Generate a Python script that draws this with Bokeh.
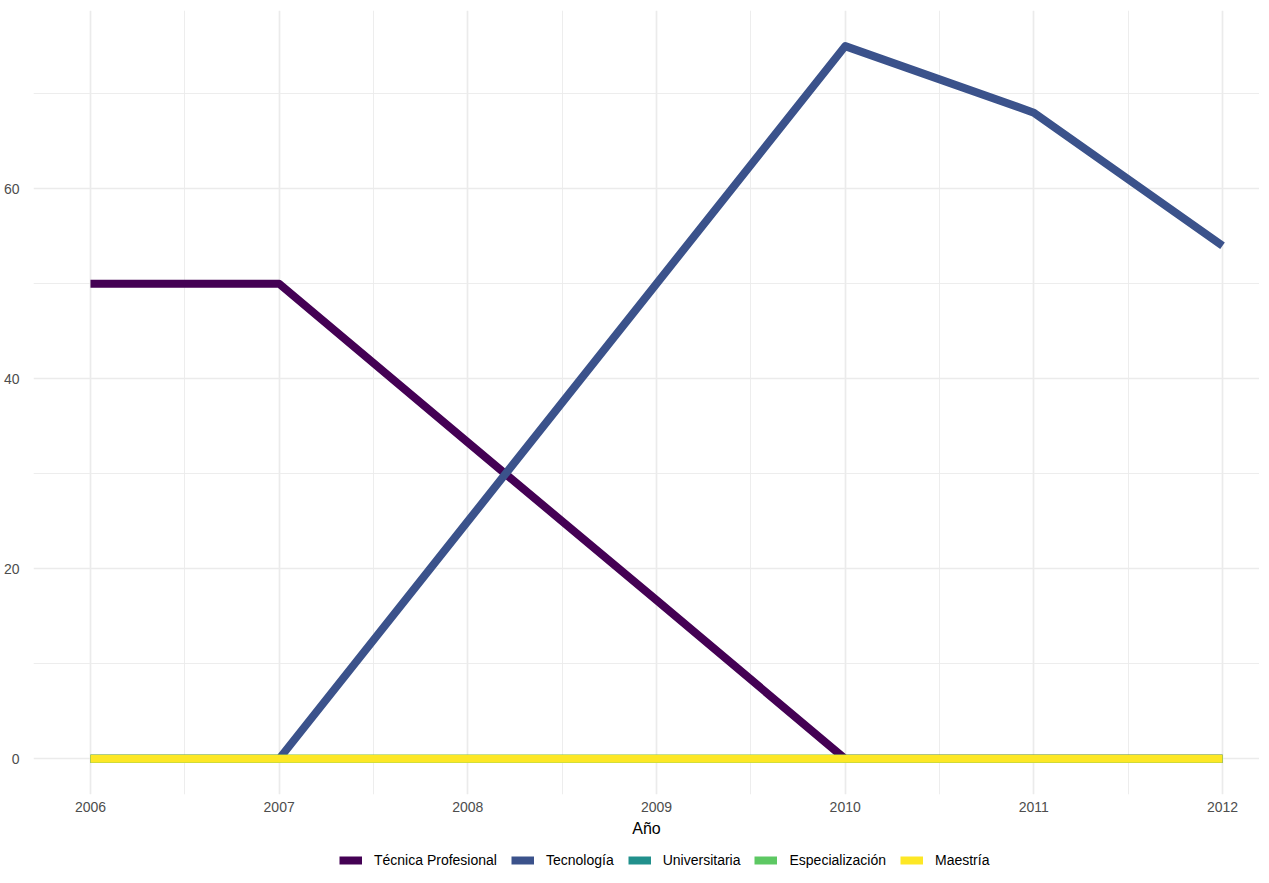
from bokeh.plotting import figure
from bokeh.models import Range1d, FixedTicker, Legend, LegendItem
from bokeh.layouts import column
from bokeh.embed import file_html
from bokeh.resources import INLINE

years = [2006, 2007, 2008, 2009, 2010, 2011, 2012]
tecnica_profesional = [50, 50, 33.3, 16.7, 0, 0, 0]
tecnologia = [0, 0, 25, 50, 75, 68, 54]
universitaria = [0, 0, 0, 0, 0, 0, 0]
especializacion = [0, 0, 0, 0, 0, 0, 0]
maestria = [0, 0, 0, 0, 0, 0, 0]

series_names = ["Técnica Profesional", "Tecnología", "Universitaria", "Especialización", "Maestría"]
series_values = [tecnica_profesional, tecnologia, universitaria, especializacion, maestria]
colors = ["#440154", "#3B528B", "#21908C", "#5DC863", "#FDE725"]

x_ticks = [2006, 2007, 2008, 2009, 2010, 2011, 2012]
x_minor = [2005.5, 2006.5, 2007.5, 2008.5, 2009.5, 2010.5, 2011.5, 2012.5]
y_ticks = [0, 20, 40, 60]
y_minor = [10, 30, 50, 70]

FONT = "Liberation Sans"

p = figure(
    frame_width=1226, frame_height=784,
    x_range=Range1d(2005.698, 2012.196), y_range=Range1d(-3.75, 78.75),
    output_backend="svg", toolbar_location=None,
    min_border_left=27, min_border_top=10, min_border_right=0, min_border_bottom=44,
)
p.outline_line_color = None
p.background_fill_color = "white"

p.xaxis.ticker = FixedTicker(ticks=x_ticks, minor_ticks=x_minor)
p.yaxis.ticker = FixedTicker(ticks=y_ticks, minor_ticks=y_minor)

for ax in (p.xaxis, p.yaxis):
    ax.axis_line_color = None
    ax.major_tick_line_color = None
    ax.minor_tick_line_color = None
    ax.major_label_text_color = "#4D4D4D"
    ax.major_label_text_font = FONT
    ax.major_label_text_font_size = "14px"

p.xaxis.major_label_standoff = 1
p.yaxis.major_label_standoff = 8
p.xaxis.axis_label = "Año"
p.xaxis.axis_label_text_font = FONT
p.xaxis.axis_label_text_font_size = "16px"
p.xaxis.axis_label_text_font_style = "normal"
p.xaxis.axis_label_text_color = "black"
p.xaxis.axis_label_standoff = 5

for g in (p.xgrid, p.ygrid):
    g.grid_line_color = "#EBEBEB"
    g.grid_line_width = 1.7
    g.minor_grid_line_color = "#EBEBEB"
    g.minor_grid_line_width = 0.9

for name, vals, col in zip(series_names, series_values, colors):
    p.line(years, vals, line_color=col, line_width=8, line_join="round", line_cap="butt")

# Legend strip below the chart (its own small figure, same series)
leg_fig = figure(
    width=1253, height=29,
    x_range=Range1d(0, 1), y_range=Range1d(0, 1),
    x_axis_location=None, y_axis_location=None,
    output_backend="svg", toolbar_location=None,
    min_border_left=0, min_border_right=0, min_border_top=0, min_border_bottom=0,
)
leg_fig.outline_line_color = None
leg_fig.grid.visible = False

items = []
for name, vals, col in zip(series_names, series_values, colors):
    r = leg_fig.line(years, vals, line_color=col, line_width=8, line_cap="butt")
    items.append(LegendItem(label=name, renderers=[r]))

legend = Legend(
    items=items, orientation="horizontal", location=(306, 0),
    padding=0, margin=0, spacing=14, label_standoff=12,
    glyph_width=23, glyph_height=10, label_height=16,
    label_text_font=FONT, label_text_font_size="14px", label_text_color="black",
    background_fill_alpha=0, border_line_color=None,
)
leg_fig.add_layout(legend, "center")

layout = column(p, leg_fig, spacing=0)
open("out.html", "w").write(file_html(layout, INLINE))
